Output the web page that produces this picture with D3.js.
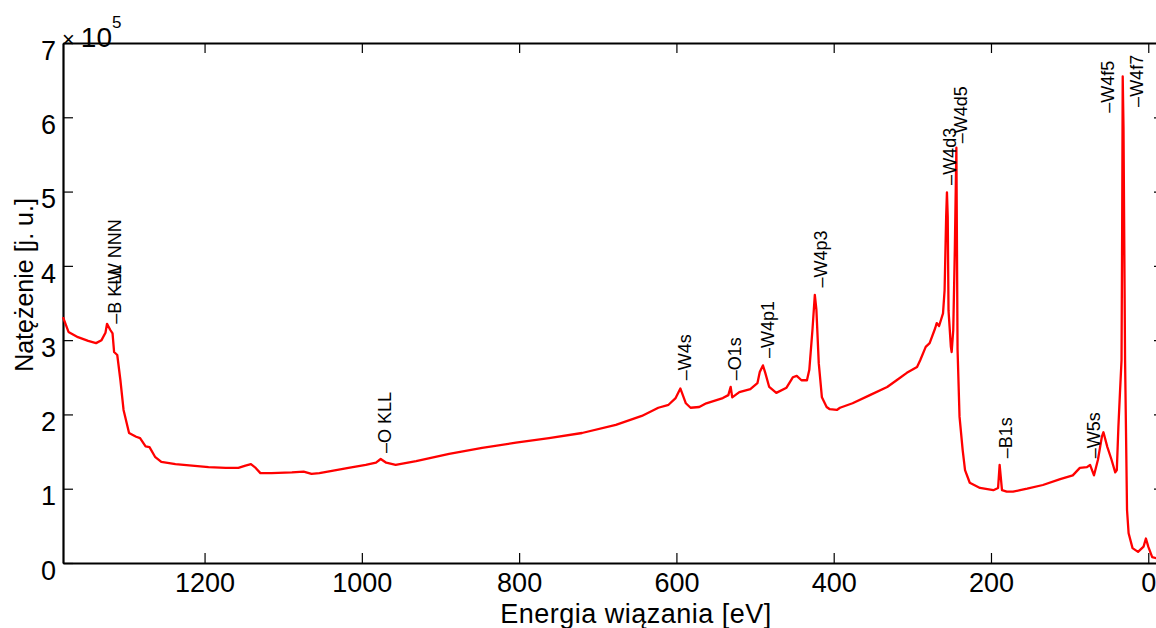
<!DOCTYPE html>
<html>
<head>
<meta charset="utf-8">
<script src="https://cdn.jsdelivr.net/npm/d3@7"></script>
<style>
  html, body { margin: 0; padding: 0; background: #fff; }
  svg { display: block; }
  text { font-family: "Liberation Sans", Arial, sans-serif; fill: #000; }
</style>
</head>
<body>
<svg id="chart" width="1156" height="628"></svg>
<script>
// XPS survey spectrum: binding energy [eV] vs intensity [x 1e5 a.u.]
const energy = [
  1380, 1373, 1361, 1348, 1338, 1331, 1326, 1324, 1320, 1317, 1315, 1311, 1307, 1303,
  1296, 1287, 1282, 1275, 1270, 1263, 1255, 1237, 1216, 1195, 1173, 1157, 1148, 1141,
  1135, 1129, 1115, 1089, 1074, 1064, 1054, 1038, 1017, 995, 982, 976, 969, 957, 931,
  889, 847, 804, 762, 720, 677, 644, 623, 610, 601, 595, 588, 582, 571, 562, 541, 534,
  531, 529, 520, 506, 497, 494, 490, 487, 482, 473, 460, 452, 447, 441, 434, 431, 427,
  424, 422, 419, 415, 409, 405, 396, 392, 376, 354, 332, 320, 307, 294, 290, 283, 278,
  271, 269, 266, 261, 259, 257, 256, 255, 254, 251, 250, 248, 246, 244, 242.5, 240, 236,
  233, 227, 214, 197, 191, 189, 186, 180, 172, 163, 154, 134, 112, 96, 87, 78, 74, 69,
  64, 59, 57, 52, 47, 42, 40, 38, 36, 34, 33.2, 32.5, 31.5, 29.5, 27, 25, 20, 13, 6, 3,
  0, -5, -12
];
const intensity = [
  3.31, 3.11, 3.04, 2.99, 2.96, 3.00, 3.10, 3.22, 3.14, 3.09, 2.84, 2.80, 2.46, 2.06,
  1.75, 1.70, 1.68, 1.57, 1.56, 1.43, 1.36, 1.33, 1.31, 1.29, 1.28, 1.28, 1.31, 1.33,
  1.28, 1.21, 1.21, 1.22, 1.23, 1.20, 1.21, 1.24, 1.28, 1.32, 1.35, 1.40, 1.35, 1.32, 1.37,
  1.47, 1.55, 1.62, 1.68, 1.75, 1.86, 1.98, 2.09, 2.13, 2.22, 2.35, 2.15, 2.09, 2.10, 2.15, 2.22, 2.26,
  2.37, 2.23, 2.30, 2.34, 2.42, 2.57, 2.66, 2.56, 2.37, 2.29, 2.36, 2.50, 2.52, 2.46, 2.46, 2.60, 3.14,
  3.61, 3.41, 2.69, 2.23, 2.10, 2.07, 2.06, 2.09, 2.15, 2.26, 2.37, 2.46, 2.56, 2.64, 2.73, 2.91, 2.96,
  3.16, 3.23, 3.19, 3.36, 3.67, 4.66, 4.99, 4.66, 3.40, 2.91, 2.84, 3.13, 4.21, 5.59, 2.87, 1.97, 1.52,
  1.25, 1.08, 1.01, 0.98, 1.01, 1.32, 0.98, 0.96, 0.96, 0.98, 1.00, 1.05, 1.13, 1.18, 1.28, 1.29, 1.32, 1.18,
  1.39, 1.70, 1.76, 1.56, 1.40, 1.22, 1.25, 1.83, 2.29, 2.73, 4.50, 6.55, 5.87, 2.73, 0.71, 0.40, 0.20, 0.15, 0.22, 0.33,
  0.22, 0.08, 0.06
];

// Peak annotations: label text, energy and intensity where the label starts
const peakLabels = ["–B KLL", "–W NNN", "–O KLL", "–W4s", "–O1s", "–W4p1", "–W4p3",
                    "–W4d3", "–W4d5", "–W4f5", "–W4f7", "–B1s", "–W5s"];
const peakEnergy = [1314, 1314, 971, 590, 526, 484, 416, 253, 238, 52, 15, 181, 69];
const peakIntensity = [3.22, 3.67, 1.48, 2.46, 2.46, 2.76, 3.71, 5.09, 5.65, 6.06, 6.14, 1.41, 1.41];

const xTicks = [1200, 1000, 800, 600, 400, 200, 0];
const yTicks = [0, 1, 2, 3, 4, 5, 6, 7];

const svg = d3.select("#chart");
const plotLeft = 63, plotRight = 1164, plotTop = 43, plotBottom = 563;

const x = d3.scaleLinear().domain([1380, -20]).range([plotLeft, plotRight]);
const y = d3.scaleLinear().domain([0, 7]).range([plotBottom, plotTop]);

const tickFont = "27px";
const fmt = d3.format("d");

// bottom axis
const gx = svg.append("g").attr("transform", `translate(0,${plotBottom})`)
  .call(d3.axisBottom(x).tickValues(xTicks).tickFormat(fmt)
    .tickSizeInner(-10).tickSizeOuter(0).tickPadding(10));
// top axis (ticks only)
const gxt = svg.append("g").attr("transform", `translate(0,${plotTop})`)
  .call(d3.axisTop(x).tickValues(xTicks).tickSizeInner(-10).tickSizeOuter(0).tickFormat(""));
// left axis
const gy = svg.append("g").attr("transform", `translate(${plotLeft},0)`)
  .call(d3.axisLeft(y).tickValues(yTicks).tickFormat(fmt)
    .tickSizeInner(-10).tickSizeOuter(0).tickPadding(7));
// right axis (ticks only)
const gyr = svg.append("g").attr("transform", `translate(${plotRight},0)`)
  .call(d3.axisRight(y).tickValues(yTicks).tickSizeInner(-10).tickSizeOuter(0).tickFormat(""));

[gx, gxt, gy, gyr].forEach(g => {
  g.select(".domain").attr("stroke", "#000").attr("stroke-width", 2.2);
  g.selectAll(".tick line").attr("stroke", "#000").attr("stroke-width", 1.2);
  g.selectAll(".tick text").style("font-size", tickFont)
    .style("font-family", '"Liberation Sans", Arial, sans-serif').attr("fill", "#000");
});
gx.selectAll(".tick text").attr("dy", "0.71em");
gy.selectAll(".tick text").attr("dy", "0.6em");

// spectrum
const pts = energy.map((e, i) => [e, intensity[i]]);
svg.append("path")
  .datum(pts)
  .attr("fill", "none")
  .attr("stroke", "#ff0000")
  .attr("stroke-width", 2.3)
  .attr("stroke-linejoin", "round")
  .attr("d", d3.line().x(d => x(d[0])).y(d => y(d[1])));

// peak labels, rotated
svg.append("g").selectAll("text")
  .data(peakLabels)
  .join("text")
  .attr("transform", (d, i) => `translate(${x(peakEnergy[i])},${y(peakIntensity[i])}) rotate(-90)`)
  .attr("dy", "0.35em")
  .style("font-size", "18px")
  .attr("fill", "#111")
  .text(d => d);

// exponent marker
const ex = svg.append("text").attr("x", 62).attr("y", 47).style("font-size", "28px");
ex.append("tspan").style("font-size", "22px").text("×");
ex.append("tspan").attr("dx", 6).text("10");
ex.append("tspan").attr("dy", -19).style("font-size", "17px").text("5");

// axis titles
svg.append("text")
  .attr("x", 636).attr("y", 623)
  .attr("text-anchor", "middle")
  .style("font-size", "27px")
  .style("letter-spacing", "0.5px")
  .text("Energia wiązania [eV]");

svg.append("text")
  .attr("transform", "translate(33,285) rotate(-90)")
  .attr("text-anchor", "middle")
  .style("font-size", "25px")
  .text("Natężenie [j. u.]");
</script>
</body>
</html>
